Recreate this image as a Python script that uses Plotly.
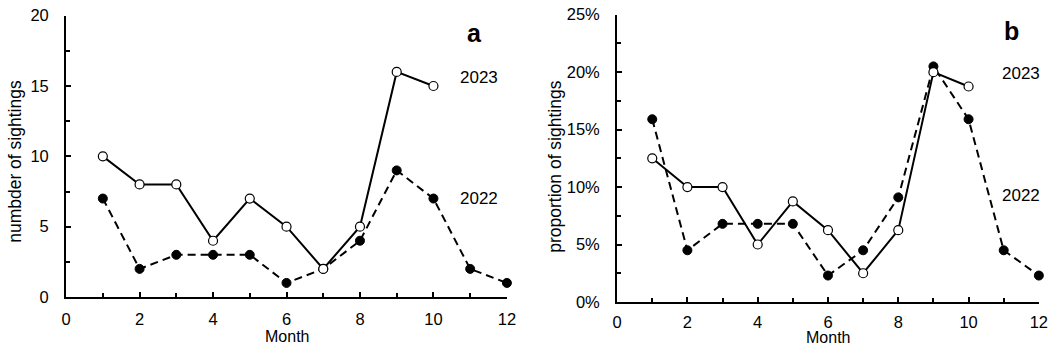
import plotly.graph_objects as go

# ---- data ----
months_2023 = [1, 2, 3, 4, 5, 6, 7, 8, 9, 10]
count_2023 = [10, 8, 8, 4, 7, 5, 2, 5, 16, 15]
months_2022 = [1, 2, 3, 4, 5, 6, 7, 8, 9, 10, 11, 12]
count_2022 = [7, 2, 3, 3, 3, 1, 2, 4, 9, 7, 2, 1]
prop_2023 = [0.125, 0.10, 0.10, 0.05, 0.0875, 0.0625, 0.025, 0.0625, 0.20, 0.1875]
prop_2022 = [0.159, 0.045, 0.068, 0.068, 0.068, 0.023, 0.045, 0.091, 0.205, 0.159, 0.045, 0.023]

W, H = 1059, 356
FONT = "Liberation Sans, Arial, sans-serif"

# the photographed page shows the figure slightly shrunk and offset; compensate
SX, OX = 0.985, 8.0
SY, OY = 0.955, 8.3


def px_x(p):
    return ((p - OX) / SX) / W


def px_y(p):
    return 1 - ((p - OY) / SY) / H


fig = go.Figure()

dash_line = dict(color="black", width=2, dash="8px,5px")
solid_line = dict(color="black", width=2)
filled = dict(size=9, color="black", line=dict(color="black", width=1))
opened = dict(size=9, color="white", line=dict(color="black", width=1.2))

# panel a
fig.add_trace(go.Scatter(x=months_2022, y=count_2022, mode="lines+markers", line=dash_line,
                         marker=filled, xaxis="x", yaxis="y", cliponaxis=False, showlegend=False))
fig.add_trace(go.Scatter(x=months_2023, y=count_2023, mode="lines+markers", line=solid_line,
                         marker=opened, xaxis="x", yaxis="y", cliponaxis=False, showlegend=False))
# panel b
fig.add_trace(go.Scatter(x=months_2022, y=prop_2022, mode="lines+markers", line=dash_line,
                         marker=filled, xaxis="x2", yaxis="y2", cliponaxis=False, showlegend=False))
fig.add_trace(go.Scatter(x=months_2023, y=prop_2023, mode="lines+markers", line=solid_line,
                         marker=opened, xaxis="x2", yaxis="y2", cliponaxis=False, showlegend=False))

tickfont = dict(family=FONT, size=16.5, color="black")

common_x = dict(range=[0, 12], dtick=2, tick0=0, showline=True, linewidth=2, linecolor="black",
                ticks="inside", ticklen=5, tickwidth=2, tickcolor="black", showgrid=False,
                zeroline=False, tickfont=tickfont, ticklabeloverflow="allow",
                minor=dict(dtick=1, ticks="inside", ticklen=4, tickwidth=1.5, tickcolor="black",
                           showgrid=False))
common_y = dict(showline=True, linewidth=2, linecolor="black", ticks="inside", ticklen=5,
                tickwidth=2, tickcolor="black", showgrid=False, zeroline=False, tickfont=tickfont,
                ticklabelstandoff=12, ticklabeloverflow="allow")

fig.update_layout(
    width=W, height=H, margin=dict(l=0, r=0, t=0, b=0),
    paper_bgcolor="white", plot_bgcolor="white",
    font=dict(family=FONT, size=16.5, color="black"),
    xaxis=dict(domain=[px_x(69), px_x(509)], anchor="y", ticklabelstandoff=6, **common_x),
    yaxis=dict(domain=[px_y(298), px_y(15)], anchor="x", range=[0, 20], dtick=5,
               minor=dict(dtick=2.5, ticks="inside", ticklen=4, tickwidth=1.5,
                          tickcolor="black", showgrid=False), **common_y),
    xaxis2=dict(domain=[px_x(619), px_x(1040)], anchor="y2", ticklabelstandoff=4, **common_x),
    yaxis2=dict(domain=[px_y(303), px_y(14)], anchor="x2", range=[0, 0.25], dtick=0.05,
                tickformat=".0%",
                minor=dict(dtick=0.025, ticks="inside", ticklen=4, tickwidth=1.5,
                           tickcolor="black", showgrid=False), **common_y),
)

ann = []


def text(x, y, s, size=16.5, bold=False, angle=0):
    ann.append(dict(x=px_x(x), y=px_y(y), xref="paper", yref="paper", text=("<b>%s</b>" % s) if bold else s,
                    showarrow=False, xanchor="center", yanchor="middle", textangle=angle,
                    borderpad=0, font=dict(family=FONT, size=size, color="black")))


text(289, 338, "Month", size=16)
text(830, 339, "Month", size=16)
text(18, 162, "numbder of sightings", size=17.5, angle=-90)
text(557, 167, "proportion of sightings", size=17.5, angle=-90)
text(477, 32, "a", size=25, bold=True)
text(1013, 30, "b", size=25, bold=True)
text(481, 77, "2023", size=17)
text(481, 199, "2022", size=17)
text(1022, 73, "2023", size=17)
text(1022, 196, "2022", size=17)

fig.update_layout(annotations=ann)
fig.write_html("out.html")
